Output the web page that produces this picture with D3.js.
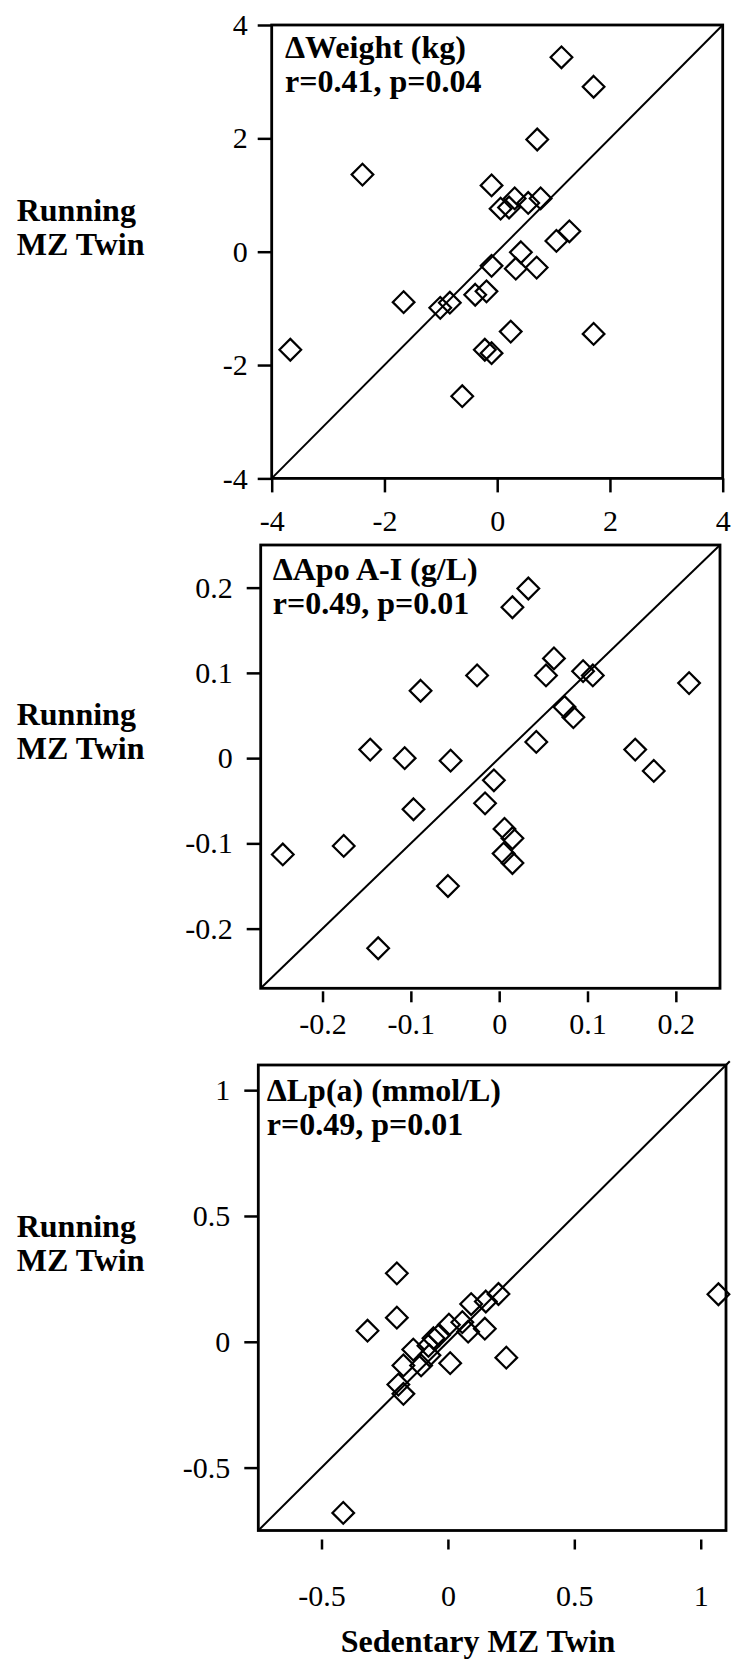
<!DOCTYPE html>
<html>
<head>
<meta charset="utf-8">
<script src="https://cdn.jsdelivr.net/npm/d3@7"></script>
<style>
  body { margin: 0; background: #fff; }
  svg { display: block; }
  text { font-family: "Liberation Serif", "Times New Roman", serif; fill: #000; }
</style>
</head>
<body>
<svg width="736" height="1669"></svg>
<script>
const svg = d3.select("svg");

// ΔWeight (kg)
const weightX = [1.14, 1.71, 0.71, -2.39, -0.10, 0.31, 0.77, 0.55, 0.06, 0.21, 1.28, 1.05, 0.42, -0.10,
  0.33, 0.70, -0.19, -0.39, -1.66, -0.84, -1.01, 0.24, 1.71, -0.22, -0.10, -3.67, -0.62];
const weightY = [3.43, 2.91, 1.98, 1.36, 1.17, 0.94, 0.94, 0.86, 0.76, 0.78, 0.36, 0.19, -0.01, -0.25,
  -0.30, -0.28, -0.70, -0.76, -0.89, -0.90, -0.99, -1.41, -1.45, -1.73, -1.79, -1.73, -2.55];
const weightTicks = [-4, -2, 0, 2, 4];

// ΔApo A-I (g/L)
const apoX = [0.033, 0.015, 0.062, -0.025, 0.053, 0.095, 0.106, 0.215, -0.089, 0.074, 0.084, 0.042, -0.146, 0.154,
  -0.107, -0.055, 0.175, -0.006, -0.097, -0.016, 0.006, 0.015, 0.005, 0.015, -0.176, -0.245, -0.058, -0.137];
const apoY = [0.199, 0.177, 0.117, 0.097, 0.097, 0.102, 0.097, 0.088, 0.079, 0.060, 0.048, 0.019, 0.010, 0.010,
  0.000, -0.003, -0.015, -0.026, -0.060, -0.053, -0.083, -0.094, -0.112, -0.123, -0.103, -0.113, -0.150, -0.223];
const apoTicks = [-0.2, -0.1, 0, 0.1, 0.2];

// ΔLp(a) (mmol/L)
const lpaX = [1.070, -0.202, -0.202, -0.318, -0.414, 0.200, 0.150, 0.092, 0.057, 0.146, 0.080, 0.004,
  -0.035, -0.057, -0.077, -0.137, -0.073, -0.106, 0.009, 0.231, -0.176, -0.196, -0.176];
const lpaY = [0.189, 0.272, 0.096, 0.044, -0.680, 0.190, 0.160, 0.150, 0.078, 0.052, 0.040, 0.068,
  0.027, 0.014, -0.016, -0.031, -0.054, -0.094, -0.085, -0.063, -0.094, -0.170, -0.207];
const lpaTicks = [-0.5, 0, 0.5, 1];

const titles = ["\u0394Weight (kg)", "\u0394Apo A-I (g/L)", "\u0394Lp(a) (mmol/L)"];
const stats = ["r=0.41, p=0.04", "r=0.49, p=0.01", "r=0.49, p=0.01"];
const yLabel = ["Running", "MZ Twin"];
const xLabel = "Sedentary MZ Twin";

const panels = [
  { xs: weightX, ys: weightY, ticks: weightTicks, domain: [-4, 4], diagEnd: 4,
    left: 271.7, right: 722.7, top: 25, bottom: 478.4,
    xOff: 0, xTick: 14, xPad: 17, yTick: 14, yPad: 10,
    titleX: 285, titleY: 57.5, labelY: 221 },
  { xs: apoX, ys: apoY, ticks: apoTicks, domain: [-0.27, 0.25], diagEnd: 0.25,
    left: 260.7, right: 720, top: 545, bottom: 988.3,
    xOff: 3, xTick: 11, xPad: 10, yTick: 14, yPad: 14,
    titleX: 272.7, titleY: 580, labelY: 725 },
  { xs: lpaX, ys: lpaY, ticks: lpaTicks, domain: [-0.75, 1.1], diagEnd: 1.115,
    left: 258.3, right: 726, top: 1065, bottom: 1530.5,
    xOff: 9, xTick: 10, xPad: 35, yTick: 14, yPad: 14,
    titleX: 266.7, titleY: 1101, labelY: 1237 }
];

// open diamonds, about 22px tip to tip
const diamond = d3.symbol().type(d3.symbolDiamond2).size(300);

panels.forEach((p, i) => {
  const x = d3.scaleLinear().domain(p.domain).range([p.left, p.right]);
  const y = d3.scaleLinear().domain(p.domain).range([p.bottom, p.top]);
  const g = svg.append("g");

  // y axis
  const ya = g.append("g")
    .attr("transform", `translate(${p.left},0)`)
    .call(d3.axisLeft(y).tickValues(p.ticks).tickFormat(d => String(d))
      .tickSize(p.yTick).tickSizeOuter(0).tickPadding(p.yPad));
  ya.select(".domain").remove();

  // x axis
  const xa = g.append("g")
    .attr("transform", `translate(0,${p.bottom + p.xOff})`)
    .call(d3.axisBottom(x).tickValues(p.ticks).tickFormat(d => String(d))
      .tickSize(p.xTick).tickSizeOuter(0).tickPadding(p.xPad));
  xa.select(".domain").remove();

  g.selectAll(".tick line").attr("stroke", "#000").attr("stroke-width", 2.5);
  g.selectAll(".tick text")
    .style("font-family", '"Liberation Serif", serif')
    .style("font-size", "30px")
    .attr("fill", "#000");

  // frame
  g.append("rect")
    .attr("x", p.left).attr("y", p.top)
    .attr("width", p.right - p.left).attr("height", p.bottom - p.top)
    .attr("fill", "none").attr("stroke", "#000").attr("stroke-width", 2.8);

  // line of identity
  g.append("line")
    .attr("x1", x(p.domain[0])).attr("y1", y(p.domain[0]))
    .attr("x2", x(p.diagEnd)).attr("y2", y(p.diagEnd))
    .attr("stroke", "#000").attr("stroke-width", 2);

  // points
  const pts = p.xs.map((v, k) => ({ x: v, y: p.ys[k] }));
  g.selectAll("path.pt")
    .data(pts)
    .enter().append("path")
    .attr("class", "pt")
    .attr("d", diamond)
    .attr("transform", d => `translate(${x(d.x)},${y(d.y)})`)
    .attr("fill", "none")
    .attr("stroke", "#000")
    .attr("stroke-width", 2.2);

  // title and statistics
  g.append("text")
    .attr("x", p.titleX).attr("y", p.titleY)
    .style("font-size", "32px").style("font-weight", "bold")
    .text(titles[i]);
  g.append("text")
    .attr("x", p.titleX).attr("y", p.titleY + 34)
    .style("font-size", "32px").style("font-weight", "bold")
    .text(stats[i]);

  // y axis label
  yLabel.forEach((t, k) => {
    g.append("text")
      .attr("x", 16.7).attr("y", p.labelY + k * 34)
      .style("font-size", "32px").style("font-weight", "bold")
      .text(t);
  });
});

svg.append("text")
  .attr("x", 478).attr("y", 1652)
  .attr("text-anchor", "middle")
  .style("font-size", "32px").style("font-weight", "bold")
  .text(xLabel);
</script>
</body>
</html>
